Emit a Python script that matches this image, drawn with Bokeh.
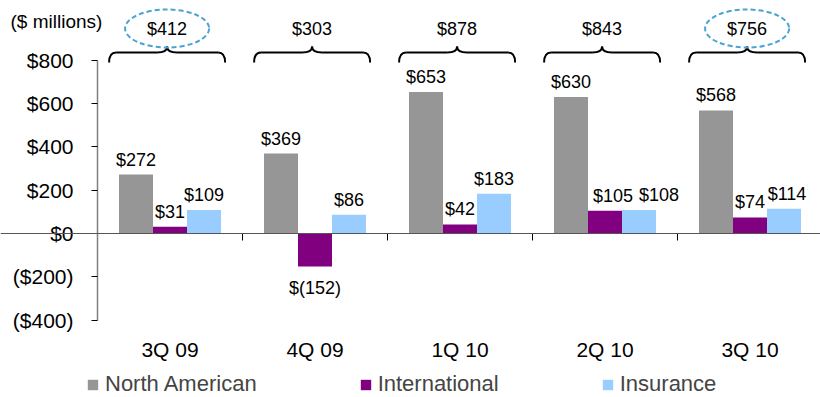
import numpy as np
from bokeh.plotting import figure
from bokeh.models import ColumnDataSource, Legend, LegendItem, Label, FixedTicker, Span
from bokeh.core.properties import value
from bokeh.embed import file_html
from bokeh.resources import INLINE

# ---------------- data ----------------
quarters = ["3Q 09", "4Q 09", "1Q 10", "2Q 10", "3Q 10"]
north_american = [272, 369, 653, 630, 568]
international = [31, -152, 42, 105, 74]
insurance = [109, 86, 183, 108, 114]
totals = [412, 303, 878, 843, 756]
highlighted = ["3Q 09", "3Q 10"]
series_names = ["North American", "International", "Insurance"]
y_ticks = [-400, -200, 0, 200, 400, 600, 800]
y_tick_labels = ["($400)", "($200)", "$0", "$200", "$400", "$600", "$800"]
unit_label = "($ millions)"

# ---------------- style ----------------
FONT = "Liberation Sans"
colors = ["#969696", "#800080", "#99CCFF"]
# per-label horizontal nudges in pixels (label placement style, as in the original slide)
label_dx = [[0, 0, 0, 0, 0], [0, 0, 0, 8, 0], [0, 0, 0, 20, 3]]
W, H = 820, 397
ZERO_PX = 233                  # pixel row of $0
U = 1200 / 260.0               # data units per pixel (y)
XU = 1 / 145.0                 # data units per pixel (x)
AXIS_PX = 97                   # pixel column of the value axis
BAR_W = 34 * XU

X0 = -0.5 - AXIS_PX * XU
Y1 = ZERO_PX * U
Y0 = -(H - ZERO_PX) * U


def fmt(v):
    return f"${v}" if v >= 0 else f"$({-v})"


x = np.arange(len(quarters), dtype=float)

p = figure(width=W, height=H, x_range=(X0, X0 + W * XU), y_range=(Y0, Y1),
           output_backend="svg", toolbar_location=None,
           min_border_left=0, min_border_right=0, min_border_top=0, min_border_bottom=0)
p.outline_line_color = None
p.xgrid.visible = False
p.ygrid.visible = False
p.background_fill_color = "white"
p.border_fill_color = "white"

# zero line
p.add_layout(Span(location=0, dimension="width", line_color="#555555", line_width=1))

# category boundary ticks
bounds = x[1:] - 0.5
p.segment(x0=bounds, y0=[0] * len(bounds), x1=bounds, y1=[-7 * U] * len(bounds),
          line_color="black", line_width=1)

renderers = []
offsets = [-BAR_W, 0.0, BAR_W]
for vals, off, col, dx in zip([north_american, international, insurance], offsets, colors, label_dx):
    src = ColumnDataSource(dict(
        x=x + off, top=vals,
        lx=x + off + np.array(dx) * XU,
        lab=[fmt(v) for v in vals],
        pos_y=[v if v >= 0 else np.nan for v in vals],
        neg_y=[v if v < 0 else np.nan for v in vals],
    ))
    r = p.vbar(x="x", top="top", bottom=0, width=BAR_W, source=src,
               fill_color=col, line_color=None)
    renderers.append(r)
    p.text(x="lx", y="pos_y", text="lab", source=src, text_align="center",
           text_baseline="alphabetic", y_offset=-15, text_font=value(FONT),
           text_font_size="18px", text_color="black")
    p.text(x="lx", y="neg_y", text="lab", source=src, text_align="center",
           text_baseline="top", y_offset=12, text_font=value(FONT),
           text_font_size="18px", text_color="black")

# braces with totals
Y_END, Y_MID, Y_TIP = (ZERO_PX - 62) * U, (ZERO_PX - 52) * U, (ZERO_PX - 46) * U
HW = 0.4
R_END = 7 * XU
R_TIP = 10 * XU
xc = x - 0.02
xl = xc - HW
xr = xc + HW
n = len(x)
kw = dict(line_color="black", line_width=2)
p.quadratic(x0=xl, y0=[Y_END] * n, cx=xl, cy=[Y_MID] * n, x1=xl + R_END, y1=[Y_MID] * n, **kw)
p.quadratic(x0=xr, y0=[Y_END] * n, cx=xr, cy=[Y_MID] * n, x1=xr - R_END, y1=[Y_MID] * n, **kw)
p.segment(x0=xl + R_END, y0=[Y_MID] * n, x1=xc - R_TIP, y1=[Y_MID] * n, **kw)
p.segment(x0=xr - R_END, y0=[Y_MID] * n, x1=xc + R_TIP, y1=[Y_MID] * n, **kw)
p.quadratic(x0=xc - R_TIP, y0=[Y_MID] * n, cx=xc, cy=[Y_MID] * n, x1=xc, y1=[Y_TIP] * n, **kw)
p.quadratic(x0=xc + R_TIP, y0=[Y_MID] * n, cx=xc, cy=[Y_MID] * n, x1=xc, y1=[Y_TIP] * n, **kw)

Y_TOT = (ZERO_PX - 28) * U
p.text(x=xc, y=[Y_TOT] * n, text=[f"${t}" for t in totals], text_align="center",
       text_baseline="middle", text_font=value(FONT), text_font_size="18px",
       text_color="black")

hx = [xc[quarters.index(q)] for q in highlighted]
p.ellipse(x=hx, y=[Y_TOT] * len(hx), width=84 * XU, height=38 * U,
          fill_color=None, line_color="#4BA3D3", line_width=2, line_dash="5 3")

# value axis, pinned at the left edge of the first category
p.yaxis.fixed_location = -0.5
p.yaxis.ticker = FixedTicker(ticks=y_ticks)
p.yaxis.major_label_overrides = {t: l for t, l in zip(y_ticks, y_tick_labels)}
p.yaxis.bounds = (y_ticks[0], y_ticks[-1])
p.yaxis.axis_line_color = "#808080"
p.yaxis.axis_line_width = 1.5
p.yaxis.major_tick_line_color = "black"
p.yaxis.major_tick_out = 6
p.yaxis.major_tick_in = 0
p.yaxis.minor_tick_line_color = None
p.yaxis.major_label_standoff = 18
p.yaxis.major_label_text_font = FONT
p.yaxis.major_label_text_font_size = "21px"
p.yaxis.major_label_text_color = "black"

# category axis, pinned at the bottom of the value axis
p.xaxis.fixed_location = y_ticks[0]
p.xaxis.ticker = FixedTicker(ticks=list(x))
p.xaxis.major_label_overrides = {float(i): q for i, q in zip(x, quarters)}
p.xaxis.axis_line_color = None
p.xaxis.major_tick_line_color = None
p.xaxis.minor_tick_line_color = None
p.xaxis.major_label_standoff = 12
p.xaxis.major_label_text_font = FONT
p.xaxis.major_label_text_font_size = "21px"
p.xaxis.major_label_text_color = "black"

p.add_layout(Label(x=X0 + 10 * XU, y=(ZERO_PX - 21) * U, text=unit_label,
                   text_font=FONT, text_font_size="19px", text_baseline="middle",
                   text_color="black"))

legend = Legend(items=[LegendItem(label=nm, renderers=[r]) for nm, r in zip(series_names, renderers)],
                orientation="horizontal", location=(86, 0), spacing=102,
                glyph_width=13, glyph_height=13, label_standoff=6,
                label_text_font=FONT, label_text_font_size="22px",
                padding=0, margin=0, border_line_color=None, background_fill_alpha=0)
p.add_layout(legend)

open("out.html", "w").write(file_html(p, INLINE))
